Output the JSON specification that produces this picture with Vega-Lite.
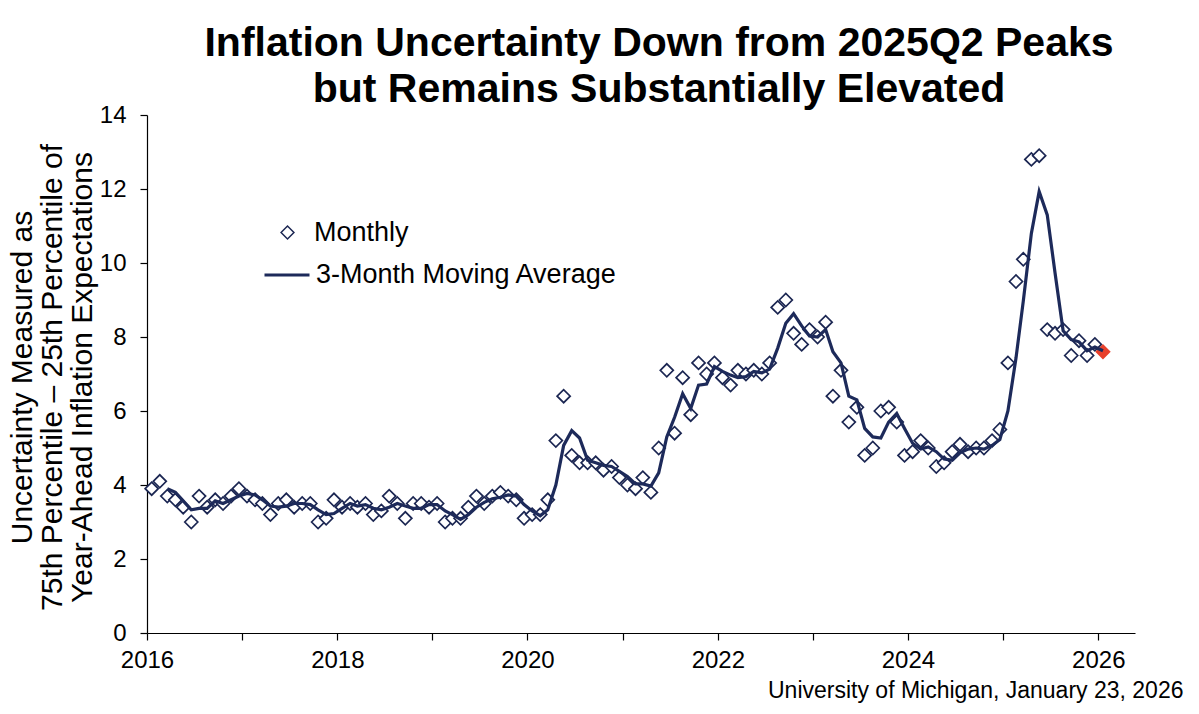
{
  "$schema": "https://vega.github.io/schema/vega-lite/v6.json",
  "width": 988,
  "height": 518,
  "autosize": {"type": "none"},
  "padding": {"left": 147, "top": 115, "right": 64, "bottom": 81},
  "background": "white",
  "title": {
    "text": ["Inflation Uncertainty Down from 2025Q2 Peaks", "but Remains Substantially Elevated"],
    "font": "Liberation Sans",
    "fontSize": 41,
    "fontWeight": "bold",
    "color": "#000000",
    "lineHeight": 46,
    "anchor": "middle",
    "dx": 18,
    "offset": -8
  },
  "data": {
    "values": [
      {"date": "2016-01-19", "monthly": 3.9, "ma": null},
      {"date": "2016-02-19", "monthly": 4.1, "ma": null},
      {"date": "2016-03-19", "monthly": 3.7, "ma": 3.90},
      {"date": "2016-04-19", "monthly": 3.6, "ma": 3.80},
      {"date": "2016-05-19", "monthly": 3.4, "ma": 3.57},
      {"date": "2016-06-19", "monthly": 3.0, "ma": 3.33},
      {"date": "2016-07-19", "monthly": 3.7, "ma": 3.37},
      {"date": "2016-08-19", "monthly": 3.4, "ma": 3.37},
      {"date": "2016-09-19", "monthly": 3.6, "ma": 3.57},
      {"date": "2016-10-19", "monthly": 3.5, "ma": 3.50},
      {"date": "2016-11-19", "monthly": 3.7, "ma": 3.60},
      {"date": "2016-12-19", "monthly": 3.9, "ma": 3.70},
      {"date": "2017-01-19", "monthly": 3.7, "ma": 3.77},
      {"date": "2017-02-19", "monthly": 3.6, "ma": 3.73},
      {"date": "2017-03-19", "monthly": 3.5, "ma": 3.60},
      {"date": "2017-04-19", "monthly": 3.2, "ma": 3.43},
      {"date": "2017-05-19", "monthly": 3.5, "ma": 3.40},
      {"date": "2017-06-19", "monthly": 3.6, "ma": 3.43},
      {"date": "2017-07-19", "monthly": 3.4, "ma": 3.50},
      {"date": "2017-08-19", "monthly": 3.5, "ma": 3.50},
      {"date": "2017-09-19", "monthly": 3.5, "ma": 3.47},
      {"date": "2017-10-19", "monthly": 3.0, "ma": 3.33},
      {"date": "2017-11-19", "monthly": 3.1, "ma": 3.20},
      {"date": "2017-12-19", "monthly": 3.6, "ma": 3.23},
      {"date": "2018-01-19", "monthly": 3.4, "ma": 3.37},
      {"date": "2018-02-19", "monthly": 3.5, "ma": 3.50},
      {"date": "2018-03-19", "monthly": 3.4, "ma": 3.43},
      {"date": "2018-04-19", "monthly": 3.5, "ma": 3.47},
      {"date": "2018-05-19", "monthly": 3.2, "ma": 3.37},
      {"date": "2018-06-19", "monthly": 3.3, "ma": 3.33},
      {"date": "2018-07-19", "monthly": 3.7, "ma": 3.40},
      {"date": "2018-08-19", "monthly": 3.5, "ma": 3.50},
      {"date": "2018-09-19", "monthly": 3.1, "ma": 3.43},
      {"date": "2018-10-19", "monthly": 3.5, "ma": 3.37},
      {"date": "2018-11-19", "monthly": 3.5, "ma": 3.37},
      {"date": "2018-12-19", "monthly": 3.4, "ma": 3.47},
      {"date": "2019-01-19", "monthly": 3.5, "ma": 3.47},
      {"date": "2019-02-19", "monthly": 3.0, "ma": 3.30},
      {"date": "2019-03-19", "monthly": 3.1, "ma": 3.20},
      {"date": "2019-04-19", "monthly": 3.1, "ma": 3.07},
      {"date": "2019-05-19", "monthly": 3.4, "ma": 3.20},
      {"date": "2019-06-19", "monthly": 3.7, "ma": 3.40},
      {"date": "2019-07-19", "monthly": 3.5, "ma": 3.53},
      {"date": "2019-08-19", "monthly": 3.7, "ma": 3.63},
      {"date": "2019-09-19", "monthly": 3.8, "ma": 3.67},
      {"date": "2019-10-19", "monthly": 3.7, "ma": 3.73},
      {"date": "2019-11-19", "monthly": 3.6, "ma": 3.70},
      {"date": "2019-12-19", "monthly": 3.1, "ma": 3.47},
      {"date": "2020-01-19", "monthly": 3.2, "ma": 3.30},
      {"date": "2020-02-19", "monthly": 3.2, "ma": 3.17},
      {"date": "2020-03-19", "monthly": 3.6, "ma": 3.33},
      {"date": "2020-04-19", "monthly": 5.2, "ma": 4.00},
      {"date": "2020-05-19", "monthly": 6.4, "ma": 5.07},
      {"date": "2020-06-19", "monthly": 4.8, "ma": 5.47},
      {"date": "2020-07-19", "monthly": 4.6, "ma": 5.27},
      {"date": "2020-08-19", "monthly": 4.6, "ma": 4.67},
      {"date": "2020-09-19", "monthly": 4.6, "ma": 4.60},
      {"date": "2020-10-19", "monthly": 4.4, "ma": 4.53},
      {"date": "2020-11-19", "monthly": 4.5, "ma": 4.50},
      {"date": "2020-12-19", "monthly": 4.2, "ma": 4.37},
      {"date": "2021-01-19", "monthly": 4.0, "ma": 4.23},
      {"date": "2021-02-19", "monthly": 3.9, "ma": 4.03},
      {"date": "2021-03-19", "monthly": 4.2, "ma": 4.03},
      {"date": "2021-04-19", "monthly": 3.8, "ma": 3.97},
      {"date": "2021-05-19", "monthly": 5.0, "ma": 4.33},
      {"date": "2021-06-19", "monthly": 7.1, "ma": 5.30},
      {"date": "2021-07-19", "monthly": 5.4, "ma": 5.83},
      {"date": "2021-08-19", "monthly": 6.9, "ma": 6.47},
      {"date": "2021-09-19", "monthly": 5.9, "ma": 6.07},
      {"date": "2021-10-19", "monthly": 7.3, "ma": 6.70},
      {"date": "2021-11-19", "monthly": 7.0, "ma": 6.73},
      {"date": "2021-12-19", "monthly": 7.3, "ma": 7.20},
      {"date": "2022-01-19", "monthly": 6.9, "ma": 7.07},
      {"date": "2022-02-19", "monthly": 6.7, "ma": 6.97},
      {"date": "2022-03-19", "monthly": 7.1, "ma": 6.90},
      {"date": "2022-04-19", "monthly": 7.0, "ma": 6.93},
      {"date": "2022-05-19", "monthly": 7.1, "ma": 7.07},
      {"date": "2022-06-19", "monthly": 7.0, "ma": 7.03},
      {"date": "2022-07-19", "monthly": 7.3, "ma": 7.13},
      {"date": "2022-08-19", "monthly": 8.8, "ma": 7.70},
      {"date": "2022-09-19", "monthly": 9.0, "ma": 8.37},
      {"date": "2022-10-19", "monthly": 8.1, "ma": 8.63},
      {"date": "2022-11-19", "monthly": 7.8, "ma": 8.30},
      {"date": "2022-12-19", "monthly": 8.2, "ma": 8.03},
      {"date": "2023-01-19", "monthly": 8.0, "ma": 8.00},
      {"date": "2023-02-19", "monthly": 8.4, "ma": 8.20},
      {"date": "2023-03-19", "monthly": 6.4, "ma": 7.60},
      {"date": "2023-04-19", "monthly": 7.1, "ma": 7.30},
      {"date": "2023-05-19", "monthly": 5.7, "ma": 6.40},
      {"date": "2023-06-19", "monthly": 6.1, "ma": 6.30},
      {"date": "2023-07-19", "monthly": 4.8, "ma": 5.53},
      {"date": "2023-08-19", "monthly": 5.0, "ma": 5.30},
      {"date": "2023-09-19", "monthly": 6.0, "ma": 5.27},
      {"date": "2023-10-19", "monthly": 6.1, "ma": 5.70},
      {"date": "2023-11-19", "monthly": 5.7, "ma": 5.93},
      {"date": "2023-12-19", "monthly": 4.8, "ma": 5.53},
      {"date": "2024-01-19", "monthly": 4.9, "ma": 5.13},
      {"date": "2024-02-19", "monthly": 5.2, "ma": 4.97},
      {"date": "2024-03-19", "monthly": 5.0, "ma": 5.03},
      {"date": "2024-04-19", "monthly": 4.5, "ma": 4.90},
      {"date": "2024-05-19", "monthly": 4.6, "ma": 4.70},
      {"date": "2024-06-19", "monthly": 4.9, "ma": 4.67},
      {"date": "2024-07-19", "monthly": 5.1, "ma": 4.87},
      {"date": "2024-08-19", "monthly": 4.9, "ma": 4.97},
      {"date": "2024-09-19", "monthly": 5.0, "ma": 5.00},
      {"date": "2024-10-19", "monthly": 5.0, "ma": 4.97},
      {"date": "2024-11-19", "monthly": 5.2, "ma": 5.07},
      {"date": "2024-12-19", "monthly": 5.5, "ma": 5.23},
      {"date": "2025-01-19", "monthly": 7.3, "ma": 6.00},
      {"date": "2025-02-19", "monthly": 9.5, "ma": 7.43},
      {"date": "2025-03-19", "monthly": 10.1, "ma": 8.97},
      {"date": "2025-04-19", "monthly": 12.8, "ma": 10.80},
      {"date": "2025-05-19", "monthly": 12.9, "ma": 11.93},
      {"date": "2025-06-19", "monthly": 8.2, "ma": 11.30},
      {"date": "2025-07-19", "monthly": 8.1, "ma": 9.73},
      {"date": "2025-08-19", "monthly": 8.2, "ma": 8.17},
      {"date": "2025-09-19", "monthly": 7.5, "ma": 7.93},
      {"date": "2025-10-19", "monthly": 7.9, "ma": 7.87},
      {"date": "2025-11-19", "monthly": 7.5, "ma": 7.63},
      {"date": "2025-12-19", "monthly": 7.8, "ma": 7.73},
      {"date": "2026-01-19", "monthly": 7.6, "ma": 7.63}
    ]
  },
  "encoding": {
    "x": {
      "field": "date",
      "type": "temporal",
      "scale": {"domain": [{"year": 2016, "month": 1, "date": 1}, {"year": 2026, "month": 5, "date": 22}]},
      "axis": {
        "values": [{"year": 2016}, {"year": 2017}, {"year": 2018}, {"year": 2019}, {"year": 2020}, {"year": 2021}, {"year": 2022}, {"year": 2023}, {"year": 2024}, {"year": 2025}, {"year": 2026}],
        "labelExpr": "year(datum.value) % 2 == 0 ? timeFormat(datum.value, '%Y') : ''",
        "tickSize": 7,
        "labelPadding": 8,
        "labelDx": 4,
        "labelFlush": false,
        "labelOverlap": false,
        "title": "University of Michigan, January 23, 2026",
        "titleX": 1036,
        "titleY": 64,
        "titleAlign": "right",
        "titleAnchor": null,
        "titleBaseline": "alphabetic",
        "titleFont": "Liberation Sans",
        "titleFontSize": 23,
        "titleFontWeight": "normal"
      }
    }
  },
  "layer": [
    {
      "mark": {"type": "point", "filled": true, "size": 170, "strokeWidth": 1.7, "opacity": 1},
      "encoding": {
        "y": {"field": "monthly", "type": "quantitative"},
        "shape": {
          "datum": "Monthly",
          "scale": {"range": ["diamond"]},
          "legend": {
            "orient": "none",
            "legendX": 127,
            "legendY": 104,
            "title": null,
            "padding": 0,
            "symbolSize": 165,
            "labelFont": "Liberation Sans",
            "labelFontSize": 27,
            "labelColor": "#000000",
            "labelOffset": 13,
            "labelLimit": 600,
            "encode": {
              "symbols": {
                "update": {
                  "fill": {"value": "white"},
                  "stroke": {"value": "#1b2652"},
                  "strokeWidth": {"value": 1.6},
                  "opacity": {"value": 1}
                }
              }
            }
          }
        },
        "fill": {"condition": {"test": "year(datum.date) >= 2026", "value": "#e8412c"}, "value": "white"},
        "stroke": {"condition": {"test": "year(datum.date) >= 2026", "value": "#e8412c"}, "value": "#1b2652"}
      }
    },
    {
      "mark": {"type": "line", "strokeWidth": 3.2},
      "encoding": {
        "y": {
          "field": "ma",
          "type": "quantitative",
          "scale": {"domain": [0, 14], "nice": false},
          "axis": {
            "values": [0, 2, 4, 6, 8, 10, 12, 14],
            "tickSize": 7,
            "labelPadding": 14,
            "title": ["Uncertainty Measured as", "75th Percentile \u2013 25th Percentile of", "Year-Ahead Inflation Expectations"],
            "titleFont": "Liberation Sans",
            "titleFontSize": 30,
            "titleFontWeight": "normal",
            "titleLineHeight": 30,
            "titleAngle": -90,
            "titleAlign": "center",
            "titleBaseline": "middle",
            "titleAnchor": null,
            "titleX": -125,
            "titleY": 262
          }
        },
        "stroke": {
          "datum": "3-Month Moving Average",
          "scale": {"range": ["#1d2a5a"]},
          "legend": {
            "orient": "none",
            "legendX": 116,
            "legendY": 136,
            "title": null,
            "padding": 0,
            "symbolType": "stroke",
            "symbolSize": 2025,
            "symbolStrokeWidth": 3,
            "labelFont": "Liberation Sans",
            "labelFontSize": 27,
            "labelColor": "#000000",
            "labelOffset": 5,
            "labelLimit": 600
          }
        }
      }
    }
  ],
  "config": {
    "view": {"stroke": null},
    "axis": {
      "grid": false,
      "domainColor": "#000000",
      "domainWidth": 1.2,
      "tickColor": "#000000",
      "tickWidth": 1.2,
      "labelFont": "Liberation Sans",
      "labelFontSize": 24,
      "labelColor": "#000000",
      "titleColor": "#000000"
    }
  }
}
